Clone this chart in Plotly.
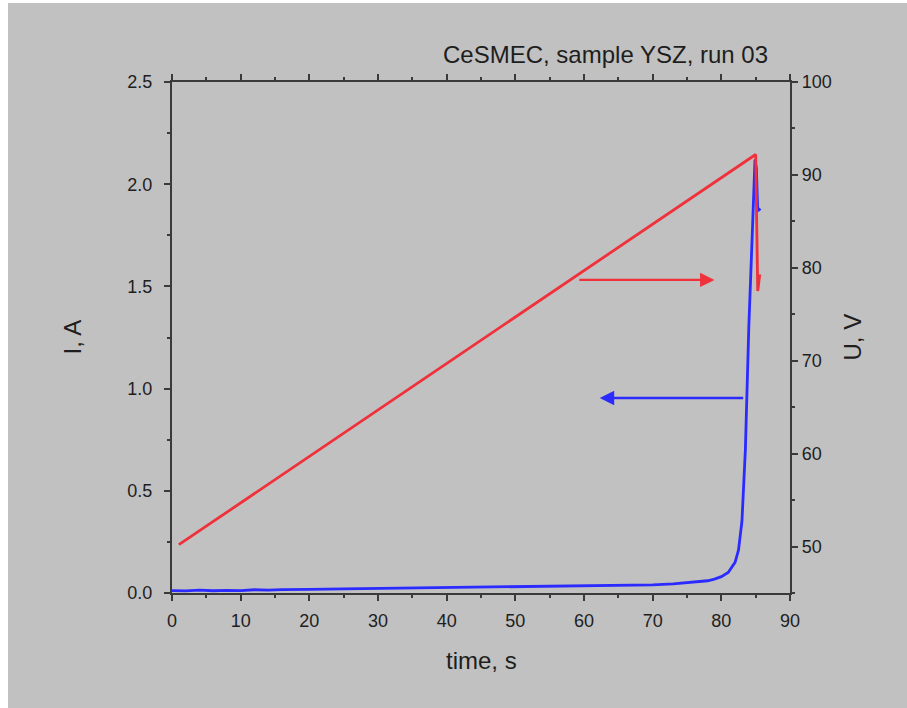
import plotly.graph_objects as go

# Current I (A) vs time (s)
t_I = [0, 2, 4, 6, 8, 10, 12, 14, 16, 18, 20, 25, 30, 35, 40, 45, 50, 55, 60, 65,
       70, 73, 76, 78, 79, 80, 81, 82, 82.5, 83, 83.5, 84, 84.5, 84.9, 85.1, 85.3, 85.7]
I_vals = [0.012, 0.01, 0.014, 0.011, 0.013, 0.012, 0.016, 0.014, 0.017, 0.016, 0.018,
          0.02, 0.022, 0.023, 0.025, 0.027, 0.029, 0.031, 0.033, 0.036,
          0.04, 0.045, 0.052, 0.06, 0.068, 0.08, 0.1, 0.15, 0.21, 0.35, 0.7, 1.3, 1.75, 2.12,
          2.08, 1.87, 1.88]

# Voltage U (V) vs time (s)
t_U = [1, 85, 85.3, 85.6]
U_vals = [50.2, 92.2, 77.5, 79.3]

x_ticks = [0, 10, 20, 30, 40, 50, 60, 70, 80, 90]
title_text = "CeSMEC, sample YSZ, run 03"

W, H = 907, 708
L, R, T, B = 172, 790, 82, 593
pw, ph = R - L, B - T

def px(xp):
    return (xp - L) / pw

def py(yp):
    return (B - yp) / ph

font = "Liberation Sans, Arial, sans-serif"
axcol = "#3a3a3a"
txtcol = "#1e1e1e"

fig = go.Figure()
fig.add_trace(go.Scatter(x=t_U, y=U_vals, mode="lines", yaxis="y2",
                         line=dict(color="#f0303a", width=2.8), showlegend=False))
fig.add_trace(go.Scatter(x=t_I, y=I_vals, mode="lines", yaxis="y",
                         line=dict(color="#2b2bff", width=2.8), showlegend=False))

axis_common = dict(showgrid=False, zeroline=False, showline=True, linecolor=axcol, linewidth=2.2,
                   ticks="outside", ticklen=6, tickwidth=1.8, tickcolor=axcol,
                   tickfont=dict(family=font, size=18, color=txtcol))

fig.update_layout(
    width=W, height=H,
    margin=dict(l=L, r=W - R, t=T, b=H - B, pad=0),
    paper_bgcolor="white",
    plot_bgcolor="rgba(0,0,0,0)",
    xaxis=dict(range=[0, 90], tickvals=x_ticks, mirror="ticks", ticklabelstandoff=4,
               minor=dict(dtick=5, tick0=0, ticks="outside", ticklen=3, tickcolor=axcol, tickwidth=1.5),
               **axis_common),
    yaxis=dict(range=[0, 2.5], dtick=0.5, tick0=0, tickformat=".1f", ticklabelstandoff=8,
               minor=dict(dtick=0.25, tick0=0, ticks="outside", ticklen=3, tickcolor=axcol, tickwidth=1.5),
               **axis_common),
    yaxis2=dict(range=[45, 100], dtick=10, tick0=50, overlaying="y", side="right",
                minor=dict(dtick=5, tick0=45, ticks="outside", ticklen=3, tickcolor=axcol, tickwidth=1.5),
                **axis_common),
    shapes=[dict(type="rect", xref="paper", yref="paper", layer="below",
                 x0=px(8), x1=px(W + 5), y0=py(H + 5), y1=py(3),
                 fillcolor="#c1c1c1", line=dict(width=0))],
    annotations=[
        dict(text=title_text, xref="paper", yref="paper", x=px(770), y=py(55),
             xanchor="right", yanchor="middle", showarrow=False,
             font=dict(family=font, size=24, color=txtcol)),
        dict(text="I, A", xref="paper", yref="paper", x=px(72), y=0.5, textangle=-90,
             xanchor="center", yanchor="middle", showarrow=False,
             font=dict(family=font, size=24, color=txtcol)),
        dict(text="U, V", xref="paper", yref="paper", x=px(852), y=0.5, textangle=-90,
             xanchor="center", yanchor="middle", showarrow=False,
             font=dict(family=font, size=24, color=txtcol)),
        dict(text="time, s", xref="paper", yref="paper", x=0.5, y=py(660),
             xanchor="center", yanchor="middle", showarrow=False,
             font=dict(family=font, size=24, color=txtcol)),
        dict(text="", x=79.0, y=78.7, xref="x", yref="y2", ax=59.1, ay=78.7,
             axref="x", ayref="y2", showarrow=True, arrowhead=2, arrowsize=1.2,
             arrowwidth=2.4, arrowcolor="#f0303a"),
        dict(text="", x=62.3, y=0.954, xref="x", yref="y", ax=83.4, ay=0.954,
             axref="x", ayref="y", showarrow=True, arrowhead=2, arrowsize=1.2,
             arrowwidth=2.4, arrowcolor="#2b2bff"),
    ],
)

fig.write_html("out.html", config={"displayModeBar": False},
               post_script="document.body.style.margin='0';")
